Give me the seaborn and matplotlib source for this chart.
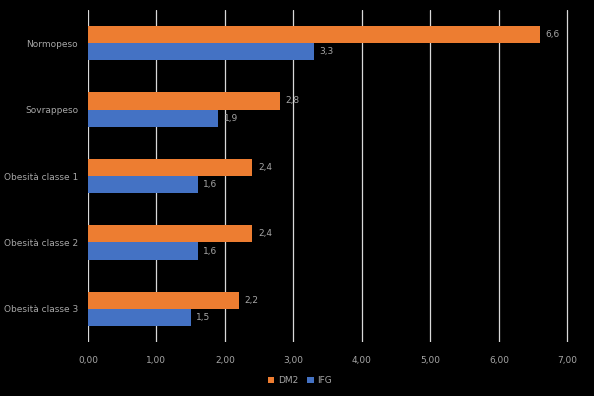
import pandas as pd
import matplotlib
matplotlib.use('Agg')
import matplotlib.pyplot as plt
import seaborn as sns

categories = ['Normopeso', 'Sovrappeso', 'Obesità classe 1', 'Obesità classe 2', 'Obesità classe 3']
dm2 = [6.6, 2.8, 2.4, 2.4, 2.2]
ifg = [3.3, 1.9, 1.6, 1.6, 1.5]
series = ['DM2', 'IFG']
x_ticks = [0, 1, 2, 3, 4, 5, 6, 7]

# long format for seaborn
df = pd.DataFrame({
    'Categoria': categories * 2,
    'Valore': dm2 + ifg,
    'Serie': ['DM2'] * len(dm2) + ['IFG'] * len(ifg),
})

sns.set_theme(style='dark')
plt.rcParams['font.family'] = ['DejaVu Sans']
txt = '#a6a6a6'

fig = plt.figure(figsize=(5.94, 3.96), dpi=100, facecolor='black')
ax = fig.add_axes([0.148, 0.136, 0.813, 0.839])
ax.set_facecolor('black')

sns.barplot(data=df, y='Categoria', x='Valore', hue='Serie', orient='h',
            palette={'DM2': '#ED7D31', 'IFG': '#4472C4'}, width=0.52,
            order=categories, hue_order=series, saturation=1,
            linewidth=0, edgecolor='none', ax=ax)

for cont in ax.containers:
    labs = [f'{v:.1f}'.replace('.', ',') for v in cont.datavalues]
    ax.bar_label(cont, labels=labs, padding=4, color=txt, fontsize=6.5)

ax.set_xlim(0, 7.05)
ax.set_ylim(4.5, -0.5)
ax.set_xticks(x_ticks)
ax.set_xticklabels([f'{t:.2f}'.replace('.', ',') for t in x_ticks], color=txt, fontsize=6.5)
ax.tick_params(axis='y', colors=txt, labelsize=6.5, length=0, pad=7)
ax.tick_params(axis='x', length=0, pad=10)
ax.xaxis.grid(True, color='#d9d9d9', linewidth=0.9)
ax.yaxis.grid(False)
ax.set_xlabel('')
ax.set_ylabel('')
for s in ax.spines.values():
    s.set_visible(False)

handles, labels = ax.get_legend_handles_labels()
ax.get_legend().remove()
fig.legend(handles, labels, loc='center', bbox_to_anchor=(0.505, 0.038), ncol=2,
           frameon=False, fontsize=6.5, labelcolor=txt, handlelength=0.7, handleheight=0.7,
           columnspacing=1.0, handletextpad=0.4)

fig.savefig('out.png', dpi=100, facecolor='black')
